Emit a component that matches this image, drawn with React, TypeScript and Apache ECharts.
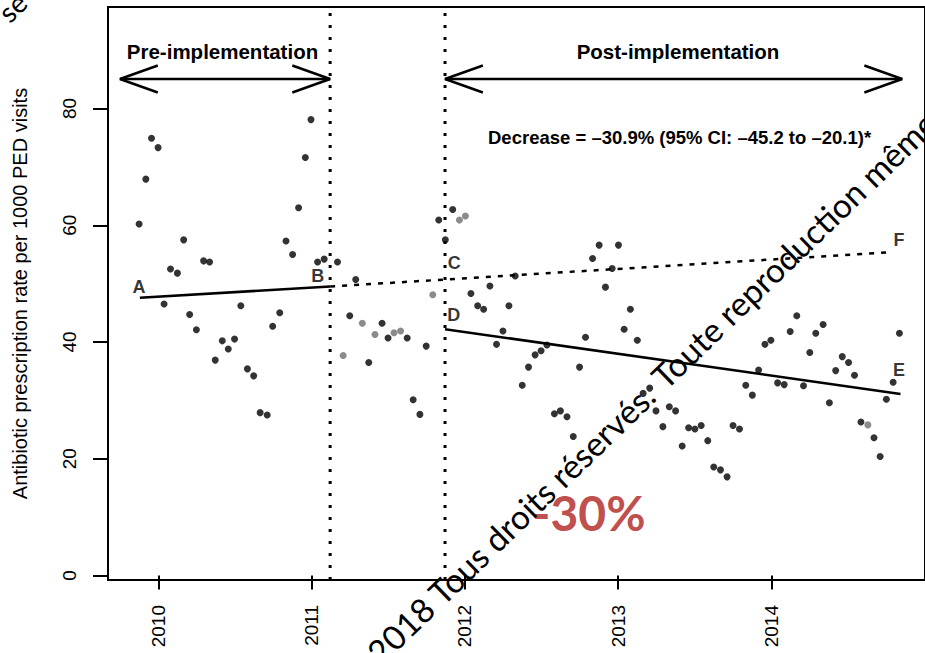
import React, { useEffect, useRef } from "react";
import * as echarts from "echarts";

// Semi-monthly antibiotic prescription rates (per 1000 PED visits)
const dates = [
  2009.873, 2009.917, 2009.954, 2009.997, 2010.036, 2010.078, 2010.123, 2010.164, 2010.203, 2010.247,
  2010.294, 2010.333, 2010.370, 2010.416, 2010.455, 2010.496, 2010.537, 2010.580, 2010.621, 2010.663,
  2010.709, 2010.745, 2010.791, 2010.832, 2010.875, 2010.914, 2010.958, 2010.995, 2011.038, 2011.081,
  2011.168, 2011.248, 2011.287, 2011.372, 2011.459, 2011.498, 2011.623, 2011.662, 2011.706, 2011.747,
  2011.829, 2011.872, 2011.920,
  2012.039, 2012.083, 2012.122, 2012.163, 2012.206, 2012.248, 2012.287, 2012.328, 2012.374, 2012.415,
  2012.458, 2012.497, 2012.535, 2012.584, 2012.623, 2012.666, 2012.707, 2012.748, 2012.787, 2012.833,
  2012.876, 2012.917, 2012.961, 2013.002, 2013.039, 2013.080, 2013.125, 2013.163, 2013.206, 2013.247,
  2013.292, 2013.334, 2013.375, 2013.418, 2013.460, 2013.501, 2013.542, 2013.585, 2013.624, 2013.668,
  2013.711, 2013.750, 2013.792, 2013.833, 2013.876, 2013.917, 2013.958, 2013.997, 2014.041, 2014.084,
  2014.123, 2014.166, 2014.210, 2014.251, 2014.290, 2014.338, 2014.379, 2014.420, 2014.463, 2014.504,
  2014.543, 2014.585, 2014.670, 2014.710, 2014.751, 2014.795, 2014.836,
];
const rates = [
  60.2, 67.9, 74.9, 73.3, 46.5, 52.5, 51.8, 57.5, 44.7, 42.1,
  53.9, 53.7, 36.9, 40.2, 38.8, 40.5, 46.2, 35.4, 34.2, 27.9,
  27.5, 42.7, 45.0, 57.3, 55.0, 63.0, 71.6, 78.1, 53.7, 54.2,
  53.7, 44.5, 50.7, 36.5, 43.2, 40.7, 40.7, 30.1, 27.6, 39.3,
  60.9, 57.5, 62.7,
  48.3, 46.2, 45.6, 49.6, 39.6, 41.9, 46.2, 51.3, 32.6, 35.7,
  37.8, 38.5, 39.5, 27.7, 28.2, 27.2, 23.8, 35.7, 40.8, 54.3,
  56.6, 49.4, 52.6, 56.6, 42.2, 45.6, 40.3, 31.2, 32.1, 28.2,
  25.5, 28.9, 28.2, 22.2, 25.3, 25.1, 25.7, 23.1, 18.6, 18.1,
  16.9, 25.7, 25.1, 32.6, 30.9, 35.2, 39.6, 40.3, 33.0, 32.7,
  41.8, 44.5, 32.5, 38.2, 41.5, 43.0, 29.6, 35.1, 37.5, 36.5,
  34.3, 26.3, 23.6, 20.4, 30.2, 33.1, 41.5,
];
// lighter (grey) points
const greyDates = [2011.205, 2011.330, 2011.413, 2011.537, 2011.580, 2011.790, 2011.964, 2012.003, 2014.630];
const greyRates = [37.7, 43.2, 41.3, 41.6, 41.9, 48.1, 60.9, 61.6, 25.8];

// Segmented regression lines
const preTrendX = [2009.878, 2011.12];
const preTrendY = [47.6, 49.5];
const counterfactualX = [2011.12, 2014.789];
const counterfactualY = [49.5, 55.4];
const postTrendX = [2011.87, 2014.843];
const postTrendY = [42.2, 31.1];

// Phase boundaries
const interventionStart = 2011.12;
const postStart = 2011.87;
const preArrowStart = 2009.748;
const postArrowEnd = 2014.854;
const arrowLevel = 85.05;

// Point labels
const letterNames = ["A", "B", "C", "D", "E", "F"];
const letterX = [2009.872, 2011.039, 2011.93, 2011.927, 2014.834, 2014.834];
const letterY = [49.4, 51.3, 53.5, 44.6, 35.2, 57.5];

const xTicks = [2010, 2011, 2012, 2013, 2014];
const yTicks = [0, 20, 40, 60, 80];
const xMin = 2009.67;
const xMax = 2015.003;
const yMin = -0.77;
const yMax = 97.39;

const R_FONT = "'Liberation Sans', Arial, Helvetica, sans-serif";
const WM_FONT = "Lato, 'Open Sans', sans-serif";

function lineSeries(points: number[][], type: any = "solid", width = 2.5) {
  return {
    type: "line",
    data: points,
    symbol: "none",
    silent: true,
    animation: false,
    lineStyle: { color: "#000", width, type, cap: "butt" },
    z: 3,
  };
}

export default function App() {
  const ref = useRef<HTMLDivElement>(null);
  useEffect(() => {
    const chart = echarts.init(ref.current!, null, { renderer: "svg" });
    const headDx = 0.247;
    const headDy = 2.31;
    const option: any = {
      animation: false,
      backgroundColor: "#fff",
      grid: {
        left: 108,
        right: -3,
        top: 7,
        bottom: 73,
        show: true,
        borderColor: "#000",
        borderWidth: 2,
        backgroundColor: "transparent",
      },
      xAxis: {
        type: "value",
        min: xMin,
        max: xMax,
        splitLine: { show: false },
        axisLine: { show: false },
        axisTick: { show: true, length: 14, lineStyle: { color: "#000", width: 2 }, customValues: xTicks },
        axisLabel: {
          rotate: 90,
          margin: 25,
          fontFamily: R_FONT,
          fontSize: 19,
          color: "#000",
          customValues: xTicks,
          formatter: (v: number) => String(Math.round(v)),
        },
      },
      yAxis: {
        type: "value",
        min: yMin,
        max: yMax,
        splitLine: { show: false },
        axisLine: { show: false },
        axisTick: { show: true, length: 15, lineStyle: { color: "#000", width: 2 }, customValues: yTicks },
        axisLabel: {
          rotate: 90,
          margin: 29,
          fontFamily: R_FONT,
          fontSize: 19,
          color: "#000",
          customValues: yTicks,
          formatter: (v: number) => String(Math.round(v)),
        },
        name: "Antibiotic prescription rate per 1000 PED visits",
        nameLocation: "middle",
        nameRotate: 90,
        nameGap: 78,
        nameTextStyle: { fontFamily: R_FONT, fontSize: 20, color: "#000" },
      },
      series: [
        lineSeries([[interventionStart, yMin], [interventionStart, yMax]], [3, 9], 3),
        lineSeries([[postStart, yMin], [postStart, yMax]], [3, 9], 3),
        lineSeries(preTrendX.map((x, i) => [x, preTrendY[i]])),
        lineSeries(counterfactualX.map((x, i) => [x, counterfactualY[i]]), [5, 7], 2.5),
        lineSeries(postTrendX.map((x, i) => [x, postTrendY[i]])),
        // arrows
        lineSeries([[preArrowStart, arrowLevel], [interventionStart, arrowLevel]]),
        lineSeries([[preArrowStart + headDx, arrowLevel + headDy], [preArrowStart, arrowLevel], [preArrowStart + headDx, arrowLevel - headDy]]),
        lineSeries([[interventionStart - headDx, arrowLevel + headDy], [interventionStart, arrowLevel], [interventionStart - headDx, arrowLevel - headDy]]),
        lineSeries([[postStart, arrowLevel], [postArrowEnd, arrowLevel]]),
        lineSeries([[postStart + headDx, arrowLevel + headDy], [postStart, arrowLevel], [postStart + headDx, arrowLevel - headDy]]),
        lineSeries([[postArrowEnd - headDx, arrowLevel + headDy], [postArrowEnd, arrowLevel], [postArrowEnd - headDx, arrowLevel - headDy]]),
        {
          type: "scatter",
          data: dates.map((d, i) => [d, rates[i]]),
          symbolSize: 7,
          itemStyle: { color: "#000" },
          silent: true,
          z: 4,
        },
        {
          type: "scatter",
          data: greyDates.map((d, i) => [d, greyRates[i]]),
          symbolSize: 7,
          itemStyle: { color: "#6e6e6e" },
          silent: true,
          z: 4,
        },
        {
          type: "scatter",
          data: letterNames.map((n, i) => ({ name: n, value: [letterX[i], letterY[i]] })),
          symbolSize: 0,
          silent: true,
          z: 5,
          label: {
            show: true,
            position: "inside",
            formatter: (p: any) => p.name,
            fontFamily: R_FONT,
            fontWeight: "bold",
            fontSize: 18,
            color: "#000",
          },
        },
      ],
      graphic: [
        {
          type: "text",
          x: 222.5,
          y: 51,
          z: 10,
          style: {
            text: "Pre-implementation",
            fontFamily: R_FONT,
            fontWeight: "bold",
            fontSize: 20.5,
            fill: "#000",
            align: "center",
            verticalAlign: "middle",
          },
        },
        {
          type: "text",
          x: 678,
          y: 51,
          z: 10,
          style: {
            text: "Post-implementation",
            fontFamily: R_FONT,
            fontWeight: "bold",
            fontSize: 20.5,
            fill: "#000",
            align: "center",
            verticalAlign: "middle",
          },
        },
        {
          type: "text",
          x: 488,
          y: 137,
          z: 10,
          style: {
            text: "Decrease = \u201330.9% (95% CI: \u201345.2 to \u201320.1)*",
            fontFamily: R_FONT,
            fontWeight: "bold",
            fontSize: 18.5,
            fill: "#000",
            align: "left",
            verticalAlign: "middle",
          },
        },
        {
          type: "text",
          x: 589,
          y: 512,
          z: 10,
          style: {
            text: "-30%",
            fontFamily: WM_FONT,
            fontWeight: "bold",
            fontSize: 48,
            fill: "#c0504d",
            align: "center",
            verticalAlign: "middle",
          },
        },
        {
          type: "text",
          x: 649,
          y: 390,
          rotation: 0.768,
          z: 11,
          style: {
            text: "2018 Tous droits r\u00e9serv\u00e9s.",
            fontFamily: WM_FONT,
            fontSize: 33.5,
            fill: "#000",
            align: "right",
            verticalAlign: "middle",
          },
        },
        {
          type: "text",
          x: 657,
          y: 382,
          rotation: 0.768,
          z: 11,
          style: {
            text: "Toute reproduction m\u00eame",
            fontFamily: WM_FONT,
            fontSize: 33.5,
            fill: "#000",
            align: "left",
            verticalAlign: "middle",
          },
        },
        {
          type: "text",
          x: 12,
          y: 7,
          rotation: 0.768,
          z: 11,
          style: {
            text: "se",
            fontFamily: WM_FONT,
            fontSize: 28,
            fill: "#000",
            align: "center",
            verticalAlign: "middle",
          },
        },
      ],
    };
    chart.setOption(option);
    return () => chart.dispose();
  }, []);
  return (
    <div
      ref={ref}
      style={{ position: "absolute", left: 0, top: 0, width: 925, height: 653, background: "#fff" }}
    />
  );
}
